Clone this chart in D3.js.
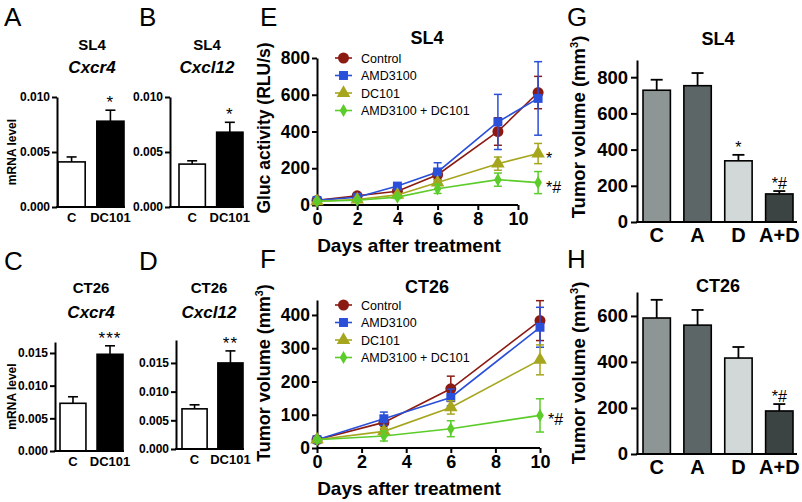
<!DOCTYPE html>
<html><head><meta charset="utf-8">
<script src="https://cdn.jsdelivr.net/npm/d3@7"></script>
<style>
body{margin:0;background:#fff;}
svg{display:block;font-family:"Liberation Sans",Arial,Helvetica,sans-serif;}
</style></head>
<body><svg id="c" width="802" height="502"></svg>
<script>
// ---------- data ----------
const mrnaCats = ["C", "DC101"];
const sl4Cxcr4 = [0.0041, 0.0078];
const sl4Cxcr4Err = [0.00045, 0.0010];
const sl4Cxcl12 = [0.0039, 0.0068];
const sl4Cxcl12Err = [0.0003, 0.0009];
const ct26Cxcr4 = [0.0073, 0.0148];
const ct26Cxcr4Err = [0.0010, 0.0013];
const ct26Cxcl12 = [0.0070, 0.0150];
const ct26Cxcl12Err = [0.0007, 0.0021];
const mrnaTicksSL4 = [0, 0.005, 0.010];
const mrnaTicksCT26 = [0, 0.005, 0.010, 0.015];

const seriesNames = ["Control", "AMD3100", "DC101", "AMD3100 + DC101"];
const seriesColors = ["#8b1a12", "#2a4fd8", "#a6a61e", "#5ccc2a"];
const daysE = [0, 2, 4, 6, 9, 11];
const glucControl = [25, 50, 75, 165, 400, 612];
const glucControlErr = [5, 8, 12, 25, 75, 88];
const glucAMD = [25, 42, 103, 180, 452, 580];
const glucAMDErr = [5, 8, 12, 50, 150, 200];
const glucDC101 = [20, 30, 55, 122, 225, 280];
const glucDC101Err = [5, 5, 8, 15, 36, 55];
const glucCombo = [20, 26, 43, 88, 138, 122];
const glucComboErr = [5, 5, 8, 25, 36, 60];
const daysF = [0, 3, 6, 10];
const volControl = [25, 77, 178, 383];
const volControlErr = [5, 20, 38, 60];
const volAMD = [25, 88, 152, 363];
const volAMDErr = [5, 20, 25, 60];
const volDC101 = [25, 50, 122, 265];
const volDC101Err = [5, 10, 20, 45];
const volCombo = [25, 36, 58, 98];
const volComboErr = [5, 15, 24, 50];
const ticksE = [0, 200, 400, 600, 800];
const ticksF = [0, 100, 200, 300, 400];
const dayTicks = [0, 2, 4, 6, 8, 10];

const groupCats = ["C", "A", "D", "A+D"];
const groupColors = ["#8d9595", "#5d6666", "#d2d7d7", "#3c4343"];
const sl4Vol = [728, 753, 338, 155];
const sl4VolErr = [58, 70, 33, 16];
const sl4VolSig = ["", "", "*", "*#"];
const ct26Vol = [591, 560, 417, 187];
const ct26VolErr = [79, 66, 48, 30];
const ct26VolSig = ["", "", "", "*#"];
const ticksG = [0, 200, 400, 600, 800];
const ticksH = [0, 200, 400, 600];

// ---------- helpers ----------
const svg = d3.select("#c");
const FONT = '"Liberation Sans",Arial,Helvetica,sans-serif';

function txt(x, y, s, size, opts = {}) {
  const t = svg.append("text").attr("x", x).attr("y", y)
    .attr("font-size", size).attr("font-weight", opts.weight || "bold")
    .attr("text-anchor", opts.anchor || "middle").attr("fill", "#000")
    .text(s);
  if (opts.italic) t.attr("font-style", "italic");
  if (opts.ls) t.attr("letter-spacing", opts.ls);
  return t;
}
function vlabel(cx, cy, s, size, sup) {
  const t = svg.append("text").attr("transform", `translate(${cx},${cy}) rotate(-90)`)
    .attr("text-anchor", "middle").attr("dy", "0.35em")
    .attr("font-size", size).attr("font-weight", "bold").text(s);
  if (sup) {
    t.append("tspan").attr("font-size", size * 0.6).attr("dy", -size * 0.4).text(sup);
    t.append("tspan").attr("dy", size * 0.4).text(")");
  }
  return t;
}
function styleAxis(g, fs) {
  g.selectAll("path,line").attr("stroke", "#000").attr("stroke-width", 2);
  g.selectAll("text").attr("font-size", fs).attr("font-weight", "bold")
    .attr("font-family", FONT).attr("fill", "#000");
}

function mrnaPanel(o) {
  const x = d3.scaleBand().domain(mrnaCats).range([o.x0 + o.padL, o.x1]).paddingInner(0.3).paddingOuter(0);
  const y = d3.scaleLinear().domain([0, o.ymax]).range([o.y0, o.ytop]);
  const g = svg.append("g");
  mrnaCats.forEach((c, i) => {
    const cx = x(c) + x.bandwidth() / 2;
    g.append("line").attr("x1", cx).attr("x2", cx).attr("y1", y(o.vals[i])).attr("y2", y(o.vals[i] + o.errs[i]))
      .attr("stroke", "#000").attr("stroke-width", 1.6);
    g.append("line").attr("x1", cx - 5).attr("x2", cx + 5).attr("y1", y(o.vals[i] + o.errs[i])).attr("y2", y(o.vals[i] + o.errs[i]))
      .attr("stroke", "#000").attr("stroke-width", 1.6);
  });
  g.selectAll("rect").data(o.vals).join("rect")
    .attr("x", (d, i) => x(mrnaCats[i])).attr("width", x.bandwidth())
    .attr("y", d => y(d)).attr("height", d => y(0) - y(d))
    .attr("fill", (d, i) => i === 0 ? "#fff" : "#000").attr("stroke", "#000").attr("stroke-width", 1.6);
  const ay = svg.append("g").attr("transform", `translate(${o.x0},0)`)
    .call(d3.axisLeft(y).tickValues(o.ticks).tickFormat(d3.format(".3f")).tickSize(5).tickPadding(2).tickSizeOuter(0));
  styleAxis(ay, 12);
  svg.append("line").attr("x1", o.x0 - 1).attr("x2", o.x1 + 1).attr("y1", o.y0).attr("y2", o.y0)
    .attr("stroke", "#000").attr("stroke-width", 2);
  mrnaCats.forEach(c => txt(x(c) + x.bandwidth() / 2, o.y0 + 15, c, 13));
  const cx1 = x(mrnaCats[1]) + x.bandwidth() / 2;
  txt(cx1, y(o.vals[1] + o.errs[1]) - 2, o.sig, 17, { weight: "normal", ls: 1 });
  txt(o.tx, o.ty1, o.t1, 15);
  txt(o.tx, o.ty2, o.t2, 17, { italic: true });
  if (o.ylabel) vlabel(12, (o.y0 + o.ytop) / 2 + 0, "mRNA level", 12);
}

mrnaPanel({ x0: 57, x1: 124, padL: 1, y0: 207, ytop: 97, ymax: 0.010, ticks: mrnaTicksSL4,
  vals: sl4Cxcr4, errs: sl4Cxcr4Err, sig: "*", tx: 92, ty1: 50, ty2: 73, t1: "SL4", t2: "Cxcr4", ylabel: true });
mrnaPanel({ x0: 170, x1: 243, padL: 9, y0: 207, ytop: 97, ymax: 0.010, ticks: mrnaTicksSL4,
  vals: sl4Cxcl12, errs: sl4Cxcl12Err, sig: "*", tx: 207, ty1: 50, ty2: 73, t1: "SL4", t2: "Cxcl12" });
mrnaPanel({ x0: 55, x1: 123, padL: 5, y0: 451, ytop: 342, ymax: 0.01668, ticks: mrnaTicksCT26,
  vals: ct26Cxcr4, errs: ct26Cxcr4Err, sig: "***", tx: 91, ty1: 293, ty2: 318, t1: "CT26", t2: "Cxcr4", ylabel: true });
mrnaPanel({ x0: 176, x1: 243, padL: 6, y0: 449, ytop: 340, ymax: 0.0190, ticks: mrnaTicksCT26,
  vals: ct26Cxcl12, errs: ct26Cxcl12Err, sig: "**", tx: 209, ty1: 293, ty2: 318, t1: "CT26", t2: "Cxcl12" });

// ---------- line panels ----------
const symTypes = [d3.symbolCircle, d3.symbolSquare, d3.symbolTriangle, d3.symbolDiamond];
const symSizes = [95, 80, 80, 50];

function linePanel(o) {
  const x = d3.scaleLinear().domain([0, o.xmaxScale]).range([o.x0, o.x0 + o.pxPerDay * o.xmaxScale]);
  const y = d3.scaleLinear().domain([0, o.ymax]).range([o.y0, o.ytop]);
  const ax = svg.append("g").attr("transform", `translate(0,${o.y0})`)
    .call(d3.axisBottom(x).tickValues(dayTicks).tickSize(5).tickPadding(2).tickSizeOuter(0));
  ax.select("path.domain").attr("d", `M${o.x0},0H${x(10)}`);
  styleAxis(ax, 18);
  const ay = svg.append("g").attr("transform", `translate(${o.x0},0)`)
    .call(d3.axisLeft(y).tickValues(o.ticks).tickSize(5).tickPadding(2).tickSizeOuter(0));
  styleAxis(ay, 17.5);
  const line = d3.line().x((d, i) => x(o.days[i])).y(d => y(d));
  o.series.forEach((s, k) => {
    const col = seriesColors[k];
    const g = svg.append("g");
    s.v.forEach((v, i) => {
      const cx = x(o.days[i]);
      const e = s.e[i];
      g.append("line").attr("x1", cx).attr("x2", cx).attr("y1", y(v - e)).attr("y2", y(v + e)).attr("stroke", col).attr("stroke-width", 1.5);
      [v - e, v + e].forEach(w => g.append("line").attr("x1", cx - 4).attr("x2", cx + 4).attr("y1", y(w)).attr("y2", y(w)).attr("stroke", col).attr("stroke-width", 1.5));
    });
    g.append("path").attr("d", line(s.v)).attr("fill", "none").attr("stroke", col).attr("stroke-width", 1.6);
    g.selectAll("path.pt").data(s.v).join("path").attr("class", "pt")
      .attr("transform", (d, i) => `translate(${x(o.days[i])},${y(d)})`)
      .attr("d", d3.symbol().type(symTypes[k]).size(symSizes[k])).attr("fill", col);
  });
  seriesNames.forEach((n, k) => {
    const ly = o.legY + k * 17.5;
    svg.append("line").attr("x1", 335).attr("x2", 352).attr("y1", ly).attr("y2", ly).attr("stroke", seriesColors[k]).attr("stroke-width", 1.6);
    svg.append("path").attr("transform", `translate(343.5,${ly})`)
      .attr("d", d3.symbol().type(symTypes[k]).size(symSizes[k])).attr("fill", seriesColors[k]);
    txt(361, ly + 4.5, n, 12.5, { anchor: "start", weight: "normal" });
  });
  o.sig.forEach(s => {
    const lastI = o.days.length - 1;
    txt(x(o.days[lastI]) + 8, y(o.series[s.k].v[lastI]) + 10, s.t, 16, { anchor: "start", weight: "normal" });
  });
  txt(o.x0 + 110, o.titleY, o.title, 18);
  txt(409, o.xlabY, "Days after treatment", 19);
}

linePanel({ x0: 317, pxPerDay: 20.1, xmaxScale: 11, y0: 205, ytop: 58, ymax: 800, ticks: ticksE, days: daysE,
  series: [{ v: glucControl, e: glucControlErr }, { v: glucAMD, e: glucAMDErr }, { v: glucDC101, e: glucDC101Err }, { v: glucCombo, e: glucComboErr }],
  legY: 58, sig: [{ k: 2, t: "*" }, { k: 3, t: "*#" }], title: "SL4", titleY: 44, xlabY: 252 });
linePanel({ x0: 317, pxPerDay: 22.3, xmaxScale: 10, y0: 448, ytop: 300, ymax: 445, ticks: ticksF, days: daysF,
  series: [{ v: volControl, e: volControlErr }, { v: volAMD, e: volAMDErr }, { v: volDC101, e: volDC101Err }, { v: volCombo, e: volComboErr }],
  legY: 305, sig: [{ k: 3, t: "*#" }], title: "CT26", titleY: 293, xlabY: 495 });
vlabel(264, 128, "Gluc activity (RLU/s)", 17.5);
vlabel(264, 373, "Tumor volume (mm", 18, "3");

// ---------- group bar panels ----------
function barPanel(o) {
  const x = d3.scaleBand().domain(groupCats).range([643, 793]).paddingInner(0.33).paddingOuter(0);
  const y = d3.scaleLinear().domain([0, o.ymax]).range([o.y0, o.ytop]);
  groupCats.forEach((c, i) => {
    const cx = x(c) + x.bandwidth() / 2;
    const top = y(o.vals[i] + o.errs[i]);
    svg.append("line").attr("x1", cx).attr("x2", cx).attr("y1", y(o.vals[i])).attr("y2", top).attr("stroke", "#000").attr("stroke-width", 1.8);
    svg.append("line").attr("x1", cx - 6).attr("x2", cx + 6).attr("y1", top).attr("y2", top).attr("stroke", "#000").attr("stroke-width", 1.8);
    if (o.sig[i]) txt(cx, top - 2, o.sig[i], 16, { weight: "normal" });
  });
  svg.append("g").selectAll("rect").data(o.vals).join("rect")
    .attr("x", (d, i) => x(groupCats[i])).attr("width", x.bandwidth())
    .attr("y", d => y(d)).attr("height", d => y(0) - y(d))
    .attr("fill", (d, i) => groupColors[i]).attr("stroke", "#000").attr("stroke-width", 1.6);
  const ay = svg.append("g").attr("transform", `translate(637,0)`)
    .call(d3.axisLeft(y).tickValues(o.ticks).tickSize(6).tickPadding(3).tickSizeOuter(0));
  styleAxis(ay, 18.5);
  svg.append("line").attr("x1", 636).attr("x2", 797).attr("y1", o.y0).attr("y2", o.y0).attr("stroke", "#000").attr("stroke-width", 2);
  groupCats.forEach(c => txt(x(c) + x.bandwidth() / 2, o.y0 + 20, c, 20));
  txt(718, o.titleY, o.title, 18);
  vlabel(579, o.labY, "Tumor volume (mm", 18.5, "3");
}
barPanel({ y0: 222, ytop: 60, ymax: 895, ticks: ticksG, vals: sl4Vol, errs: sl4VolErr, sig: sl4VolSig, title: "SL4", titleY: 45, labY: 127 });
barPanel({ y0: 454, ytop: 292, ymax: 704, ticks: ticksH, vals: ct26Vol, errs: ct26VolErr, sig: ct26VolSig, title: "CT26", titleY: 292, labY: 373 });

// ---------- panel letters ----------
const letters = [["A", 4, 26], ["B", 139, 26], ["C", 4, 270], ["D", 139, 270], ["E", 260, 26], ["F", 260, 268], ["G", 567, 26], ["H", 567, 268]];
letters.forEach(l => txt(l[1], l[2], l[0], 26, { anchor: "start", weight: "normal" }));
</script></body></html>
